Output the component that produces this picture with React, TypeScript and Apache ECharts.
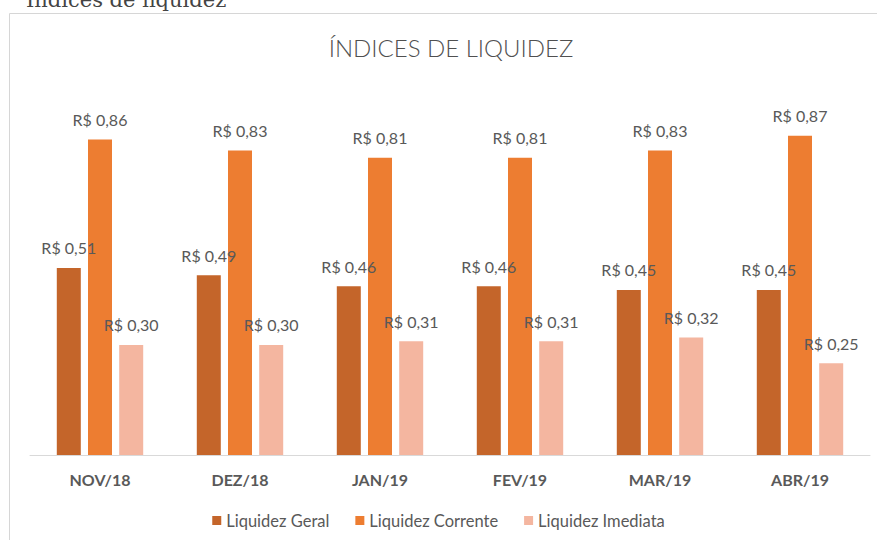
import React, { useEffect, useRef } from "react";
import * as echarts from "echarts";

const categories = ["NOV/18", "DEZ/18", "JAN/19", "FEV/19", "MAR/19", "ABR/19"];
const liquidezGeral = [0.51, 0.49, 0.46, 0.46, 0.45, 0.45];
const liquidezCorrente = [0.86, 0.83, 0.81, 0.81, 0.83, 0.87];
const liquidezImediata = [0.3, 0.3, 0.31, 0.31, 0.32, 0.25];
const seriesNames = ["Liquidez Geral", "Liquidez Corrente", "Liquidez Imediata"];
const colors = ["#C4652A", "#ED7D31", "#F4B6A0"];

const FONT = "Lato";
const GRAY = "#595959";

const fmt = (v: number) => "R$ " + v.toFixed(2).replace(".", ",");

export default function App() {
  const ref = useRef<HTMLDivElement>(null);
  useEffect(() => {
    if (!ref.current) return;
    const chart = echarts.init(ref.current, undefined, { renderer: "svg" });
    const mk = (name: string, data: number[], color: string) => ({
      name,
      type: "bar",
      data,
      barWidth: 24,
      barGap: "30%",
      itemStyle: { color },
      label: {
        show: true,
        position: "top",
        distance: 12,
        color: GRAY,
        fontFamily: FONT,
        fontSize: 16,
        formatter: (p: any) => fmt(p.value),
      },
    });
    chart.setOption({
      animation: false,
      backgroundColor: "#fff",
      textStyle: { fontFamily: FONT },
      graphic: [
        {
          type: "rect",
          shape: { x: 9.5, y: 13.5, width: 900, height: 600 },
          style: { fill: "none", stroke: "#d6d6d6", lineWidth: 1 },
          silent: true,
        },
        {
          type: "text",
          x: 26,
          y: 10,
          style: {
            text: "Índices de liquidez",
            font: "21px 'DejaVu Serif'",
            fill: "#444",
            textVerticalAlign: "bottom",
          },
        },
        {
          type: "text",
          x: 451,
          y: 47,
          style: {
            text: "ÍNDICES DE LIQUIDEZ",
            fontFamily: FONT,
            fontSize: 24,
            fontWeight: 300,
            fill: "#505050",
            textAlign: "center",
            textVerticalAlign: "middle",
          },
        },
      ],
      legend: {
        data: seriesNames,
        top: 507,
        left: "center",
        itemWidth: 9,
        itemHeight: 9,
        itemGap: 26,
        icon: "rect",
        textStyle: { color: GRAY, fontFamily: FONT, fontSize: 16.5 },
      },
      grid: { left: 30, right: 7, top: 90, bottom: 85, containLabel: false },
      xAxis: {
        type: "category",
        data: categories,
        axisLine: { lineStyle: { color: "#d9d9d9", width: 1 } },
        axisTick: { show: false },
        axisLabel: {
          color: GRAY,
          fontFamily: FONT,
          fontWeight: "bold",
          fontSize: 16,
          margin: 16,
        },
      },
      yAxis: { type: "value", min: 0, max: 0.995, show: false, splitLine: { show: false } },
      series: [
        mk(seriesNames[0], liquidezGeral, colors[0]),
        mk(seriesNames[1], liquidezCorrente, colors[1]),
        mk(seriesNames[2], liquidezImediata, colors[2]),
      ],
    });
    return () => chart.dispose();
  }, []);
  return (
    <div
      ref={ref}
      style={{ position: "fixed", left: 0, top: 0, width: 877, height: 540 }}
    />
  );
}
